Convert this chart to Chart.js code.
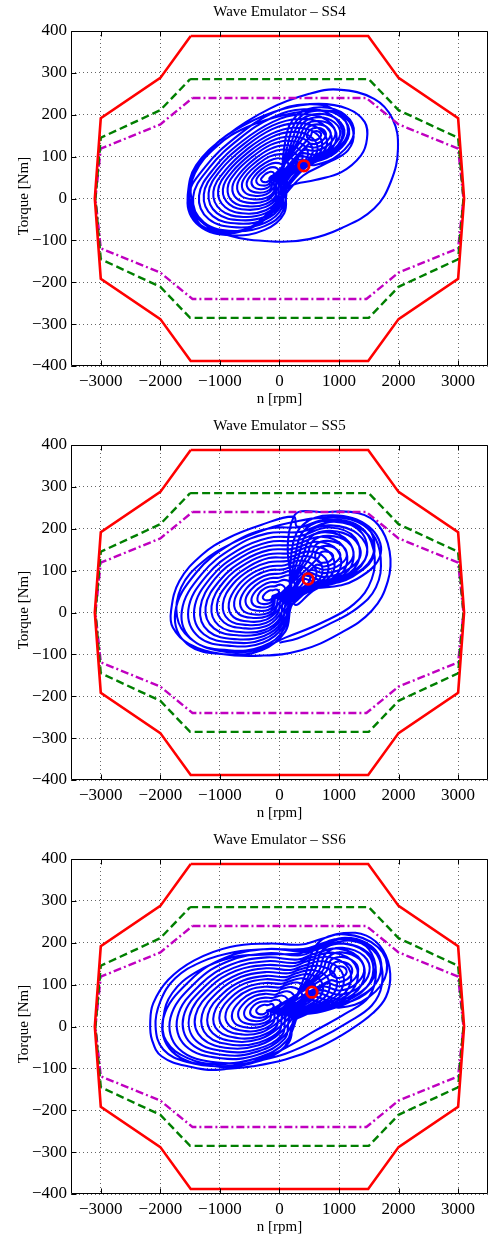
<!DOCTYPE html>
<html><head><meta charset="utf-8">
<script src="https://cdn.jsdelivr.net/npm/chart.js@4"></script>
<style>
html,body{margin:0;padding:0;background:#fff;overflow:hidden;width:491px;height:1243px;}
.wrap{position:absolute;left:0;width:496px;height:414px;}
canvas{display:block;}
</style></head><body>
<div class="wrap" style="top:0px"><canvas id="c0" width="496" height="414"></canvas></div>
<div class="wrap" style="top:414px"><canvas id="c1" width="496" height="414"></canvas></div>
<div class="wrap" style="top:828px"><canvas id="c2" width="496" height="414"></canvas></div>
<script>
// ---------- texts & ticks ----------
const titles = ['Wave Emulator \u2013 SS4', 'Wave Emulator \u2013 SS5', 'Wave Emulator \u2013 SS6'];
const xLabel = 'n [rpm]';
const yLabel = 'Torque [Nm]';
const xTicks = [-3000, -2000, -1000, 0, 1000, 2000, 3000];
const yTicks = [-400, -300, -200, -100, 0, 100, 200, 300, 400];

// ---------- operating limits (same on all three) ----------
const redN = [-1490, 1490, 2000, 3000, 3100, 3000, 2000, 1490, -1490, -2000, -3000, -3100, -3000, -2000, -1490];
const redT = [388, 388, 288, 192, 0, -192, -288, -388, -388, -288, -192, 0, 192, 288, 388];
const greenN = [-1500, 1500, 2000, 3000, 3090, 3000, 2000, 1500, -1500, -2000, -3000, -3090, -3000, -2000, -1500];
const greenT = [285, 285, 211, 145, 0, -145, -211, -285, -285, -211, -145, 0, 145, 211, 285];
const magN = [-1460, 1460, 2000, 3000, 3090, 3000, 2000, 1460, -1460, -2000, -3000, -3090, -3000, -2000, -1460];
const magT = [240, 240, 177, 119, 0, -119, -177, -240, -240, -177, -119, 0, 119, 177, 240];

// ---------- operating point markers ----------
const markerN = [410, 480, 545];
const markerT = [78, 80, 82];

// ---------- SS4 trajectory (n [rpm], T [Nm]) ----------
const ss4Loops = [
 [[-1540,8],[-1370,-48],[-880,-87],[-60,-103],[500,-97],[1040,-71],[1590,-24],[1870,40],[1990,119],[1900,190],[1590,238],[990,260],[500,250],[-170,214],[-880,151],[-1400,79],[-1540,8]],
 [[-1480,-32],[-1150,-79],[-600,-75],[-170,-32],[170,28],[600,44],[1040,63],[1370,103],[1470,143],[1430,183],[1150,214],[660,226],[60,214],[-600,175],[-1150,119],[-1480,48],[-1480,-32]],
 [[-1250,-70],[-750,-82],[-250,-50],[100,10],[400,55],[800,85],[1150,115],[1240,160],[1050,200],[700,210],[100,200],[-550,170],[-1050,125],[-1420,60],[-1480,0],[-1250,-62],[-700,-78],[-200,-45],[90,15]],
 [[150,30],[450,75],[900,110],[1150,160],[950,210],[450,225],[-100,205],[-700,150],[-1250,75],[-1540,0],[-1350,-65],[-800,-88],[-250,-75],[80,-35]],
 [[130,31],[410,73],[820,106],[1060,152],[870,199],[410,213],[-110,194],[-670,143],[-1180,73],[-1450,3],[-1270,-57],[-760,-78],[-250,-66],[60,-29]],
 [[200,80],[600,80],[1000,105],[1250,155],[1100,200],[700,218],[300,200],[100,140]],
 [[100,33],[360,72],[750,102],[960,145],[790,188],[360,201],[-110,183],[-630,136],[-1100,72],[-1350,7],[-1190,-49],[-720,-69],[-240,-58],[40,-23]],
 [[80,34],[320,70],[680,98],[880,138],[720,178],[320,190],[-120,174],[-600,130],[-1040,70],[-1270,10],[-1120,-42],[-680,-60],[-240,-50],[20,-18]],
 [[250,88],[600,88],[950,110],[1170,154],[1040,194],[690,210],[340,194],[160,141]],
 [[60,35],[280,69],[610,94],[800,131],[650,168],[280,180],[-130,165],[-570,124],[-980,69],[-1190,13],[-1050,-35],[-640,-52],[-240,-43],[10,-13]],
 [[40,36],[240,67],[550,91],[720,125],[580,159],[240,169],[-130,155],[-540,118],[-910,67],[-1110,16],[-980,-28],[-610,-44],[-230,-35],[-10,-8]],
 [[300,97],[600,97],[900,116],[1090,154],[980,188],[680,202],[370,188],[220,142]],
 [[20,38],[200,66],[480,87],[640,118],[510,149],[200,159],[-140,146],[-510,112],[-850,66],[-1030,19],[-910,-21],[-570,-36],[-230,-28],[-30,-3]],
 [[0,39],[160,64],[420,84],[560,112],[440,140],[160,148],[-140,137],[-480,106],[-790,64],[-950,22],[-840,-14],[-540,-27],[-230,-20],[-40,2]],
 [[340,105],[600,105],[860,121],[1020,153],[920,182],[660,194],[410,182],[280,144]],
 [[-30,40],[130,63],[350,80],[480,105],[380,130],[130,138],[-150,128],[-450,100],[-730,63],[-870,25],[-780,-8],[-500,-19],[-230,-13],[-60,7]],
 [[-50,41],[90,61],[280,76],[390,98],[310,120],[90,127],[-160,118],[-420,94],[-660,61],[-790,28],[-710,-1],[-460,-11],[-220,-5],[-80,13]],
 [[390,114],[600,114],[810,127],[940,153],[860,176],[650,185],[440,176],[340,145]],
 [[-70,42],[50,60],[220,73],[310,92],[240,111],[50,117],[-160,109],[-390,88],[-600,60],[-710,31],[-640,6],[-430,-2],[-220,2],[-90,18]],
 [[-90,44],[10,58],[150,69],[230,85],[170,101],[10,106],[-170,100],[-360,82],[-540,58],[-630,34],[-570,13],[-390,6],[-220,10],[-110,23]],
 [[440,122],[600,122],[760,132],[860,152],[800,170],[640,177],[480,170],[400,146]],
 [[-110,45],[-30,57],[90,66],[150,79],[100,92],[-30,96],[-170,90],[-330,76],[-470,57],[-550,37],[-500,20],[-360,14],[-210,17],[-130,28]],
 [[-130,46],[-70,55],[20,62],[70,72],[30,82],[-70,85],[-180,81],[-300,70],[-410,55],[-470,40],[-430,27],[-320,22],[-210,25],[-140,33]],
 [[490,130],[600,130],[710,137],[780,151],[740,164],[630,169],[520,164],[460,147]],
 [[540,139],[600,139],[660,143],[700,151],[680,158],[620,161],[550,158],[520,148]],
 [[-150,47],[-110,54],[-50,58],[-10,65],[-40,72],[-110,75],[-190,72],[-270,64],[-350,54],[-390,43],[-360,34],[-280,31],[-210,32],[-160,38]],
 [[-170,48],[-150,52],[-110,55],[-90,59],[-110,63],[-150,64],[-190,62],[-240,58],[-280,52],[-310,46],[-290,41],[-250,39],[-200,40],[-180,43]]
];

// ---------- SS5 trajectory ----------
const ss5Loops = [
 [[0,-72],[300,-62],[800,-30],[1300,10],[1620,60],[1700,130],[1550,190],[1200,222],[700,226],[300,218],[-200,200],[-800,165],[-1300,120],[-1650,60],[-1720,-10],[-1500,-62],[-1000,-92],[-400,-90],[100,-60],[700,-25],[1250,20],[1550,80],[1580,150],[1350,205],[800,222],[300,205]],
 [[240,229],[-310,209],[-860,178],[-1300,138],[-1680,75],[-1820,4],[-1790,-36],[-1520,-75],[-970,-99],[-310,-103],[350,-91],[1000,-51],[1550,4],[1820,75],[1850,146],[1660,209],[1330,237],[780,240],[240,229]],
 [[250,70],[750,60],[1300,80],[1700,140],[1500,205],[900,232],[400,210],[200,140]],
 [[250,20],[600,55],[1100,80],[1550,130],[1500,200],[1000,230],[400,205],[-200,200],[-800,165],[-1400,95],[-1750,0],[-1550,-75],[-900,-100],[-300,-90],[100,-45]],
 [[220,21],[550,54],[1010,77],[1430,124],[1390,189],[920,217],[360,193],[-200,189],[-760,156],[-1310,91],[-1640,3],[-1450,-67],[-850,-90],[-290,-81],[80,-39]],
 [[310,77],[750,68],[1230,86],[1590,139],[1410,196],[880,220],[440,200],[270,139]],
 [[190,23],[500,53],[930,74],[1310,117],[1270,178],[840,203],[320,182],[-190,178],[-710,148],[-1230,87],[-1530,6],[-1350,-59],[-800,-80],[-280,-72],[70,-33]],
 [[170,24],[450,52],[850,72],[1210,112],[1170,168],[770,192],[290,172],[-190,168],[-670,140],[-1150,84],[-1430,8],[-1270,-52],[-750,-72],[-270,-64],[50,-28]],
 [[370,84],[750,77],[1170,92],[1470,138],[1320,187],[860,208],[480,191],[330,138]],
 [[150,25],[410,51],[780,70],[1110,107],[1070,158],[700,181],[260,162],[-190,158],[-630,133],[-1080,81],[-1330,10],[-1190,-45],[-710,-64],[-260,-56],[40,-23]],
 [[120,26],[360,50],[700,67],[1010,101],[970,149],[630,169],[220,152],[-180,149],[-590,125],[-1000,77],[-1240,13],[-1100,-38],[-660,-55],[-250,-48],[20,-18]],
 [[430,92],[750,85],[1100,98],[1360,136],[1230,178],[850,195],[530,181],[400,136]],
 [[100,28],[320,49],[630,65],[900,96],[870,139],[560,158],[190,142],[-180,139],[-550,118],[-930,74],[-1140,15],[-1020,-31],[-620,-47],[-240,-41],[10,-13]],
 [[70,29],[270,48],[550,62],[800,90],[770,130],[490,146],[160,132],[-180,130],[-510,110],[-850,71],[-1050,18],[-930,-24],[-570,-38],[-230,-33],[-10,-8]],
 [[490,99],[750,94],[1040,104],[1240,135],[1140,169],[830,183],[570,172],[460,135]],
 [[50,30],[230,48],[480,60],[700,85],[680,120],[430,135],[130,123],[-180,120],[-480,103],[-780,68],[-950,20],[-850,-18],[-530,-30],[-230,-25],[-30,-3]],
 [[30,31],[180,47],[400,58],[600,80],[580,110],[360,124],[90,113],[-170,110],[-440,95],[-700,64],[-850,22],[-770,-11],[-480,-22],[-220,-17],[-40,3]],
 [[550,106],[750,102],[970,110],[1130,134],[1050,160],[810,171],[610,162],[530,134]],
 [[0,32],[140,46],[330,55],[500,74],[480,101],[290,112],[60,103],[-170,101],[-400,88],[-630,61],[-760,25],[-680,-4],[-440,-13],[-210,-9],[-60,8]],
 [[-20,34],[90,45],[250,53],[390,69],[380,91],[220,101],[30,93],[-170,91],[-360,80],[-550,58],[-660,27],[-600,3],[-390,-5],[-200,-2],[-70,13]],
 [[610,113],[750,110],[900,116],[1020,133],[960,151],[790,159],[650,152],[600,133]],
 [[670,120],[750,119],[840,122],[900,132],[870,142],[770,146],[690,143],[660,132]],
 [[-50,35],[50,44],[180,50],[290,63],[280,82],[150,89],[-10,83],[-160,82],[-320,73],[-480,54],[-570,30],[-510,10],[-350,4],[-190,6],[-90,18]],
 [[-70,36],[0,43],[100,48],[190,58],[180,72],[80,78],[-40,73],[-160,72],[-280,65],[-400,51],[-470,32],[-430,17],[-300,12],[-180,14],[-100,23]],
 [[-90,37],[-40,42],[20,46],[90,53],[80,62],[10,67],[-70,63],[-160,62],[-240,58],[-330,48],[-370,34],[-350,24],[-260,20],[-170,22],[-120,28]],
 [[-120,38],[-90,41],[-50,43],[-10,47],[-20,53],[-60,55],[-110,53],[-150,53],[-200,50],[-250,44],[-280,37],[-260,31],[-210,29],[-160,30],[-130,33]]
];

// ---------- SS6 trajectory ----------
const ss6Loops = [
 [[-1000,-103],[-450,-95],[100,-79],[700,-47],[1190,-8],[1570,32],[1790,71],[1860,126],[1740,182],[1460,217],[1080,223],[700,209],[370,196],[-180,198],[-830,190],[-1430,158],[-1870,111],[-2120,55],[-2170,8],[-2140,-32],[-1980,-71],[-1540,-95],[-1000,-103]],
 [[-450,-85],[100,-65],[650,-30],[1150,10],[1550,50],[1720,100],[1680,160],[1450,200],[1100,212],[750,200],[400,185],[-150,185],[-750,178],[-1300,155],[-1750,115],[-2000,60],[-2080,0],[-1950,-55],[-1550,-85],[-1000,-95],[-450,-85]],
 [[50,-55],[600,-10],[1100,30],[1500,70],[1620,130],[1500,185],[1200,205],[800,195],[350,175],[-200,172],[-800,165],[-1400,130],[-1800,80],[-1950,20],[-1900,-35],[-1550,-75],[-1050,-90],[-500,-80],[50,-55]],
 [[300,20],[700,35],[1200,60],[1650,110],[1650,175],[1200,210],[700,195],[400,180],[-200,185],[-900,165],[-1500,110],[-1950,20],[-1800,-60],[-1100,-95],[-400,-85],[150,-40]],
 [[260,21],[630,35],[1100,59],[1520,105],[1520,166],[1100,198],[630,184],[360,170],[-200,175],[-860,156],[-1410,105],[-1830,21],[-1690,-53],[-1040,-86],[-390,-76],[120,-34]],
 [[450,60],[1000,45],[1500,70],[1800,130],[1650,190],[1100,220],[650,200],[450,130]],
 [[220,23],[570,36],[1000,57],[1380,100],[1380,156],[1000,186],[570,173],[310,160],[-210,165],[-810,148],[-1330,100],[-1710,23],[-1580,-46],[-980,-76],[-380,-68],[90,-29]],
 [[190,24],[510,36],[910,56],[1270,96],[1270,148],[910,176],[510,164],[270,152],[-210,156],[-770,140],[-1250,96],[-1610,24],[-1490,-40],[-930,-68],[-370,-60],[70,-24]],
 [[520,68],[1000,55],[1440,77],[1700,130],[1570,183],[1090,209],[690,192],[520,130]],
 [[160,25],[450,36],[820,55],[1160,92],[1160,140],[820,166],[450,155],[230,144],[-210,147],[-730,133],[-1180,92],[-1510,25],[-1400,-34],[-880,-60],[-360,-53],[50,-19]],
 [[120,26],[400,37],[740,54],[1040,88],[1040,132],[740,156],[400,145],[190,135],[-220,139],[-690,125],[-1100,88],[-1410,26],[-1300,-28],[-830,-52],[-350,-45],[20,-14]],
 [[580,77],[1000,65],[1380,84],[1610,130],[1490,176],[1080,198],[730,183],[580,130]],
 [[90,28],[340,37],[650,52],[930,83],[930,124],[650,145],[340,136],[150,127],[-220,130],[-650,118],[-1030,83],[-1300,28],[-1210,-22],[-780,-44],[-340,-38],[0,-10]],
 [[60,29],[280,37],[560,51],[810,79],[810,116],[560,135],[280,127],[110,118],[-220,121],[-610,110],[-950,79],[-1200,29],[-1120,-16],[-730,-36],[-330,-30],[-30,-5]],
 [[650,85],[1000,76],[1320,92],[1510,130],[1420,168],[1060,188],[780,175],[650,130]],
 [[30,30],[230,37],[480,50],[700,75],[700,108],[480,125],[230,118],[80,110],[-230,113],[-580,103],[-880,75],[-1100,30],[-1030,-10],[-680,-28],[-330,-23],[-50,0]],
 [[-10,31],[170,38],[390,49],[590,71],[590,99],[390,115],[170,108],[40,102],[-230,104],[-540,95],[-800,71],[-1000,31],[-930,-4],[-620,-19],[-320,-15],[-70,5]],
 [[710,94],[1000,86],[1260,99],[1420,130],[1340,161],[1050,177],[820,166],[710,130]],
 [[-40,32],[110,38],[300,48],[470,67],[470,91],[300,105],[110,99],[0,93],[-230,95],[-500,88],[-730,67],[-900,32],[-840,2],[-570,-11],[-310,-8],[-100,10]],
 [[-70,34],[50,38],[210,46],[360,62],[360,83],[210,94],[50,90],[-40,85],[-230,86],[-460,80],[-650,62],[-790,34],[-750,8],[-520,-3],[-300,0],[-120,14]],
 [[780,102],[1000,96],[1200,106],[1320,130],[1260,154],[1040,166],[860,158],[780,130]],
 [[-110,35],[0,39],[130,45],[240,58],[240,75],[130,84],[0,80],[-80,76],[-240,78],[-420,73],[-580,58],[-690,35],[-650,14],[-470,5],[-290,7],[-150,19]],
 [[-140,36],[-60,39],[40,44],[130,54],[130,67],[40,74],[-60,71],[-120,68],[-240,69],[-380,65],[-500,54],[-590,36],[-560,20],[-420,13],[-280,15],[-170,24]],
 [[850,110],[1000,106],[1140,113],[1220,130],[1180,147],[1030,155],[900,150],[850,130]],
 [[910,119],[1000,116],[1080,120],[1130,130],[1100,140],[1020,144],[940,141],[910,130]],
 [[-170,37],[-120,39],[-50,43],[20,50],[20,59],[-50,64],[-120,62],[-160,60],[-240,60],[-340,58],[-430,50],[-490,37],[-470,26],[-370,21],[-270,22],[-190,29]],
 [[-210,38],[-170,40],[-130,42],[-100,46],[-100,51],[-130,54],[-170,52],[-200,51],[-250,52],[-300,50],[-350,46],[-390,38],[-370,32],[-320,29],[-260,30],[-220,34]]
];

// ---------- drawing ----------
const SERIF = "'Liberation Serif','Times New Roman',Times,serif";
const fmt = v => (v < 0 ? '\u2212' + Math.abs(v) : String(v));
const zip = (xs, ys) => xs.map((v, i) => ({x: v, y: ys[i]}));

const framePlugin = {
  id: 'frame',
  afterDraw(chart, args, opts) {
    const {ctx, chartArea: a, scales: {x, y}} = chart;
    ctx.save();
    ctx.setLineDash([]);
    ctx.strokeStyle = '#000';
    ctx.lineWidth = 1;
    const L = Math.round(a.left) + 0.5, R = Math.round(a.right) - 0.5;
    const T = Math.round(a.top) + 0.5, B = Math.round(a.bottom) - 0.5;
    ctx.beginPath();
    ctx.moveTo(L, T); ctx.lineTo(R, T); ctx.lineTo(R, B); ctx.lineTo(L, B); ctx.closePath();
    xTicks.forEach(v => {
      const p = Math.round(x.getPixelForValue(v)) + 0.5;
      ctx.moveTo(p, B); ctx.lineTo(p, B - 5);
      ctx.moveTo(p, T); ctx.lineTo(p, T + 5);
    });
    yTicks.forEach(v => {
      const p = Math.round(y.getPixelForValue(v)) + 0.5;
      ctx.moveTo(L, p); ctx.lineTo(L + 5, p);
    });
    ctx.stroke();
    ctx.fillStyle = '#000';
    ctx.font = '15px ' + SERIF;
    ctx.textAlign = 'center';
    ctx.textBaseline = 'middle';
    const cx = (a.left + a.right) / 2;
    ctx.fillText(opts.title, cx, 12.5);
    ctx.fillText(xLabel, cx, 399);
    ctx.translate(24, 196);
    ctx.rotate(-Math.PI / 2);
    ctx.fillText(yLabel, 0, 0);
    ctx.restore();
  }
};

function makeChart(id, idx, loops) {
  const traj = [];
  loops.forEach(loop => loop.forEach(p => traj.push({x: p[0], y: p[1]})));
  new Chart(document.getElementById(id), {
    type: 'scatter',
    data: {
      datasets: [
        {data: [{x: markerN[idx], y: markerT[idx]}], showLine: false, pointRadius: 5.3,
         pointBorderWidth: 2.8, pointBorderColor: '#ff0000', pointBackgroundColor: 'rgba(0,0,0,0)'},
        {data: zip(redN, redT), showLine: true, borderColor: '#ff0000', borderWidth: 2.6, pointRadius: 0, tension: 0},
        {data: zip(greenN, greenT), showLine: true, borderColor: '#007f00', borderWidth: 2.4, borderDash: [8, 4], pointRadius: 0, tension: 0},
        {data: zip(magN, magT), showLine: true, borderColor: '#c000c0', borderWidth: 2.4, borderDash: [8, 3, 2, 3], pointRadius: 0, tension: 0},
        {data: traj, showLine: true, borderColor: '#0000ff', borderWidth: 2.1, pointRadius: 0, tension: 0.4}
      ]
    },
    options: {
      responsive: false,
      animation: false,
      devicePixelRatio: 1,
      layout: {padding: {top: 31, left: 0, right: 0, bottom: 0}},
      plugins: {legend: {display: false}, tooltip: {enabled: false}, frame: {title: titles[idx]}},
      scales: {
        x: {
          type: 'linear', min: -3500, max: 3500,
          afterBuildTicks: s => { s.ticks = xTicks.map(v => ({value: v})); },
          afterFit: s => { s.height = 48; },
          grid: {color: 'rgba(0,0,0,0.6)', lineWidth: 1, drawTicks: false},
          border: {display: false, dash: [1, 3]},
          ticks: {callback: fmt, font: {family: SERIF, size: 17}, color: '#000', padding: 5, maxRotation: 0, autoSkip: false}
        },
        y: {
          type: 'linear', min: -400, max: 400,
          afterBuildTicks: s => { s.ticks = yTicks.map(v => ({value: v})); },
          afterFit: s => { s.width = 71; },
          grid: {color: 'rgba(0,0,0,0.6)', lineWidth: 1, drawTicks: false},
          border: {display: false, dash: [1, 3]},
          ticks: {callback: fmt, font: {family: SERIF, size: 17}, color: '#000', padding: 4, autoSkip: false}
        }
      }
    },
    plugins: [framePlugin]
  });
}

makeChart('c0', 0, ss4Loops);
makeChart('c1', 1, ss5Loops);
makeChart('c2', 2, ss6Loops);
</script>
</body></html>
